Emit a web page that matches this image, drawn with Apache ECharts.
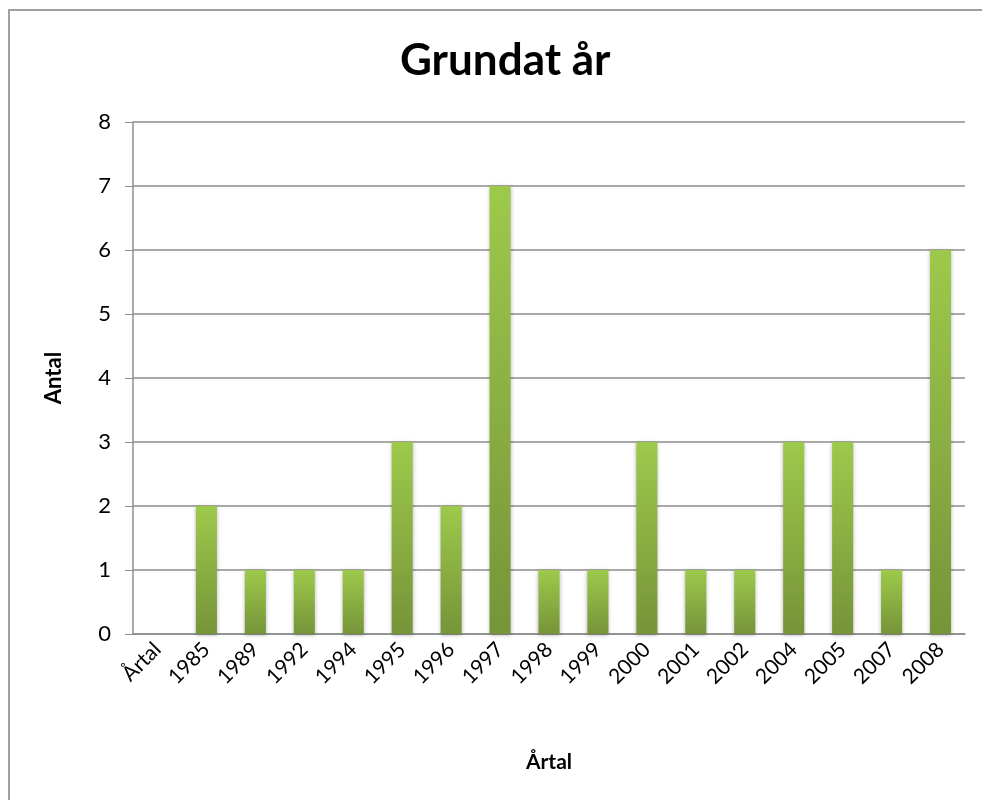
<!DOCTYPE html>
<html>
<head>
<meta charset="utf-8">
<script src="https://cdn.jsdelivr.net/npm/echarts@6/dist/echarts.min.js"></script>
<style>
  html, body { margin: 0; padding: 0; background: #fff; overflow: hidden; }
  #chart { position: absolute; left: 0; top: 0; width: 982px; height: 800px; }
</style>
</head>
<body>
<div id="chart"></div>
<script>
const categories = ['Årtal', '1985', '1989', '1992', '1994', '1995', '1996', '1997', '1998', '1999', '2000', '2001', '2002', '2004', '2005', '2007', '2008']
const counts = [null, 2, 1, 1, 1, 3, 2, 7, 1, 1, 3, 1, 1, 3, 3, 1, 6]
const yTicks = [0, 1, 2, 3, 4, 5, 6, 7, 8]

const font = 'Lato, "Open Sans", sans-serif'
const chart = echarts.init(document.getElementById('chart'))

const option = {
    animation: false,
    // chart area frame: only left and top edges are in view
    graphic: [{
        type: 'polyline',
        shape: { points: [[9, 800], [9, 10], [982, 10]] },
        style: { stroke: '#a0a0a0', lineWidth: 2, fill: null },
        silent: true
    }],
    title: {
        text: 'Grundat år',
        left: 395,
        top: 34,
        textStyle: { fontFamily: font, fontSize: 44, fontWeight: 'bold', color: '#000' }
    },
    grid: { left: 133, right: 17, top: 122, bottom: 166 },
    xAxis: {
        type: 'category',
        data: categories,
        name: 'Årtal',
        nameLocation: 'middle',
        nameGap: 118,
        nameTextStyle: { fontFamily: font, fontSize: 21, fontWeight: 'bold', color: '#000' },
        axisLine: { lineStyle: { color: '#8c8c8c', width: 1.5 } },
        axisTick: { show: false },
        axisLabel: { rotate: 45, fontFamily: font, fontSize: 21, color: '#000', margin: 12, interval: 0 }
    },
    yAxis: {
        type: 'value',
        min: yTicks[0],
        max: yTicks[yTicks.length - 1],
        interval: 1,
        name: 'Antal',
        nameLocation: 'middle',
        nameGap: 68,
        nameRotate: 90,
        nameTextStyle: { fontFamily: font, fontSize: 22, fontWeight: 'bold', color: '#000' },
        axisLine: { show: true, lineStyle: { color: '#8c8c8c', width: 1.5 } },
        axisTick: { show: true, length: 8, inside: false, lineStyle: { color: '#8c8c8c' } },
        axisLabel: { fontFamily: font, fontSize: 22, color: '#000', margin: 22 },
        splitLine: { show: true, lineStyle: { color: '#8c8c8c', width: 1.5 } }
    },
    series: [{
        type: 'bar',
        data: counts,
        barWidth: '43%',
        itemStyle: {
            color: new echarts.graphic.LinearGradient(0, 0, 0, 1, [
                { offset: 0, color: '#9dc94b' },
                { offset: 1, color: '#769439' }
            ]),
            shadowBlur: 4,
            shadowColor: 'rgba(0,0,0,0.3)',
            shadowOffsetY: 1
        }
    }]
}

chart.setOption(option)
</script>
</body>
</html>
